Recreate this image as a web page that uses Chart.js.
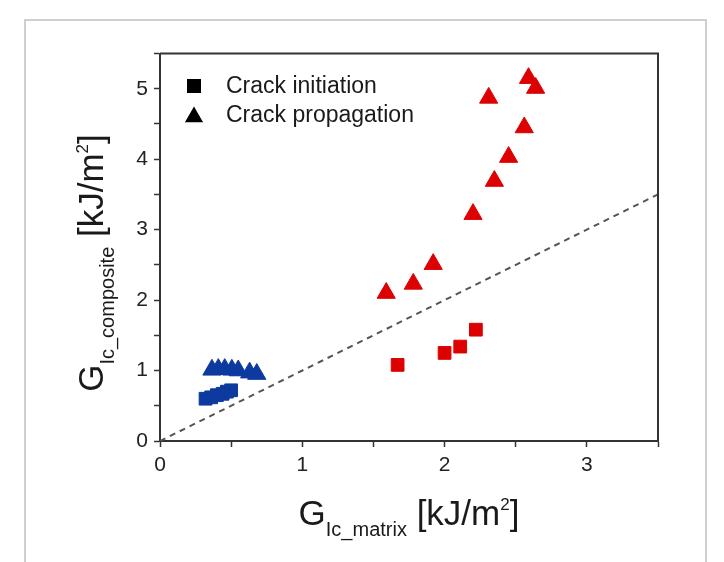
<!DOCTYPE html>
<html>
<head>
<meta charset="utf-8">
<script src="https://cdn.jsdelivr.net/npm/chart.js@4.4.0/dist/chart.umd.min.js"></script>
<style>
  html, body { margin: 0; padding: 0; background: #fff; }
  #wrap { position: relative; width: 724px; height: 562px; }
</style>
</head>
<body>
<div id="wrap"><canvas id="myChart" width="724" height="562"></canvas></div>
<script>
// matrix toughness (x) vs composite toughness (y), kJ/m2
const initLowX = [0.32, 0.36, 0.40, 0.44, 0.47, 0.50];
const initLowY = [0.60, 0.62, 0.65, 0.67, 0.70, 0.72];
const propLowX = [0.365, 0.41, 0.455, 0.505, 0.55, 0.63, 0.68];
const propLowY = [1.01, 1.02, 1.02, 1.01, 1.00, 0.97, 0.95];
const initHighX = [1.67, 2.00, 2.11, 2.22];
const initHighY = [1.08, 1.25, 1.34, 1.58];
const propHighX = [1.59, 1.78, 1.92, 2.20, 2.35, 2.45, 2.56, 2.31, 2.59, 2.64];
const propHighY = [2.10, 2.23, 2.51, 3.22, 3.69, 4.03, 4.45, 4.87, 5.15, 5.01];
const refX = [0, 3.5];
const refY = [0, 3.5];
const xTicks = [0, 1, 2, 3];
const yTicks = [0, 1, 2, 3, 4, 5];
const legendLabels = ["Crack initiation", "Crack propagation"];

const FONT = '"Liberation Sans", Arial, sans-serif';
const axisColor = "#333";
const red = "#dd0000";
const blue = "#0d3a9e";

const toPoints = (xs, ys) => xs.map((x, i) => ({ x: x, y: ys[i] }));

function drawGTitle(ctx, cx, base, sub) {
  const big = "35px " + FONT, small = "20px " + FONT, sup = "17px " + FONT;
  ctx.font = big;
  const wG = ctx.measureText("G").width;
  const wA = ctx.measureText(" [kJ/m").width;
  const wB = ctx.measureText("]").width;
  ctx.font = small;
  const wS = ctx.measureText(sub).width;
  ctx.font = sup;
  const w2 = ctx.measureText("2").width;
  let x = cx - (wG + wS + wA + w2 + wB) / 2;
  ctx.textAlign = "left";
  ctx.textBaseline = "alphabetic";
  ctx.font = big; ctx.fillText("G", x, base); x += wG;
  ctx.font = small; ctx.fillText(sub, x, base + 11); x += wS;
  ctx.font = big; ctx.fillText(" [kJ/m", x, base); x += wA;
  ctx.font = sup; ctx.fillText("2", x, base - 15); x += w2;
  ctx.font = big; ctx.fillText("]", x, base);
}

const decorations = {
  id: "decorations",
  beforeDraw(chart) {
    const ctx = chart.ctx;
    ctx.save();
    ctx.strokeStyle = "#cfcfcf";
    ctx.lineWidth = 2;
    ctx.strokeRect(25, 20, 681, 600);
    ctx.restore();
  },
  afterDraw(chart) {
    const { ctx, chartArea: a } = chart;
    ctx.save();
    // top and right frame
    ctx.strokeStyle = axisColor;
    ctx.lineWidth = 2;
    ctx.beginPath();
    ctx.moveTo(a.left, a.top);
    ctx.lineTo(a.right, a.top);
    ctx.lineTo(a.right, a.bottom);
    ctx.stroke();

    // legend
    ctx.fillStyle = "#000";
    ctx.fillRect(187, 79, 14, 14);
    ctx.beginPath();
    const r = 10.5, cx = 194, cy = 117;
    ctx.moveTo(cx, cy - r);
    ctx.lineTo(cx + r * Math.sin(Math.PI / 3), cy + r / 2);
    ctx.lineTo(cx - r * Math.sin(Math.PI / 3), cy + r / 2);
    ctx.closePath();
    ctx.fill();
    ctx.fillStyle = "#1a1a1a";
    ctx.font = "23px " + FONT;
    ctx.textAlign = "left";
    ctx.textBaseline = "alphabetic";
    ctx.fillText(legendLabels[0], 226, 93);
    ctx.fillText(legendLabels[1], 226, 122);

    // axis titles
    ctx.fillStyle = "#1a1a1a";
    drawGTitle(ctx, (a.left + a.right) / 2, 525, "Ic_matrix");
    ctx.translate(103, 263);
    ctx.rotate(-Math.PI / 2);
    drawGTitle(ctx, 0, 0, "Ic_composite");
    ctx.restore();
  }
};

const ctx = document.getElementById("myChart");
new Chart(ctx, {
  type: "scatter",
  data: {
    datasets: [
      {
        data: toPoints(initLowX, initLowY),
        pointStyle: "rect", pointRadius: 9, borderWidth: 1,
        backgroundColor: blue, borderColor: blue, order: 1
      },
      {
        data: toPoints(propLowX, propLowY),
        pointStyle: "triangle", pointRadius: 10.5, borderWidth: 1,
        backgroundColor: blue, borderColor: blue, order: 1
      },
      {
        data: toPoints(initHighX, initHighY),
        pointStyle: "rect", pointRadius: 9, borderWidth: 1,
        backgroundColor: red, borderColor: red, order: 1
      },
      {
        data: toPoints(propHighX, propHighY),
        pointStyle: "triangle", pointRadius: 10.5, borderWidth: 1,
        backgroundColor: red, borderColor: red, order: 1
      },
      {
        type: "line",
        data: toPoints(refX, refY),
        showLine: true, pointRadius: 0, borderColor: "#555",
        borderWidth: 2, borderDash: [6, 5], fill: false, order: 10
      }
    ]
  },
  options: {
    responsive: false,
    animation: false,
    events: [],
    layout: { padding: { left: 0, top: 53.5, right: 66, bottom: 0 } },
    plugins: { legend: { display: false }, tooltip: { enabled: false } },
    scales: {
      x: {
        type: "linear", min: 0, max: 3.5,
        afterFit: (s) => { s.height = 121; },
        border: { color: axisColor, width: 2 },
        grid: { drawOnChartArea: false, tickLength: 6, tickColor: axisColor, tickWidth: 1.5 },
        ticks: {
          stepSize: 0.5, padding: 6, color: "#222",
          font: { family: FONT, size: 21 },
          callback: (v) => (xTicks.includes(v) ? String(v) : "")
        }
      },
      y: {
        type: "linear", min: 0, max: 5.5,
        afterFit: (s) => { s.width = 160; },
        border: { color: axisColor, width: 2 },
        grid: { drawOnChartArea: false, tickLength: 6, tickColor: axisColor, tickWidth: 1.5 },
        ticks: {
          stepSize: 0.5, padding: 6, color: "#222",
          font: { family: FONT, size: 21 },
          callback: (v) => (yTicks.includes(v) ? String(v) : "")
        }
      }
    }
  },
  plugins: [decorations]
});
</script>
</body>
</html>
